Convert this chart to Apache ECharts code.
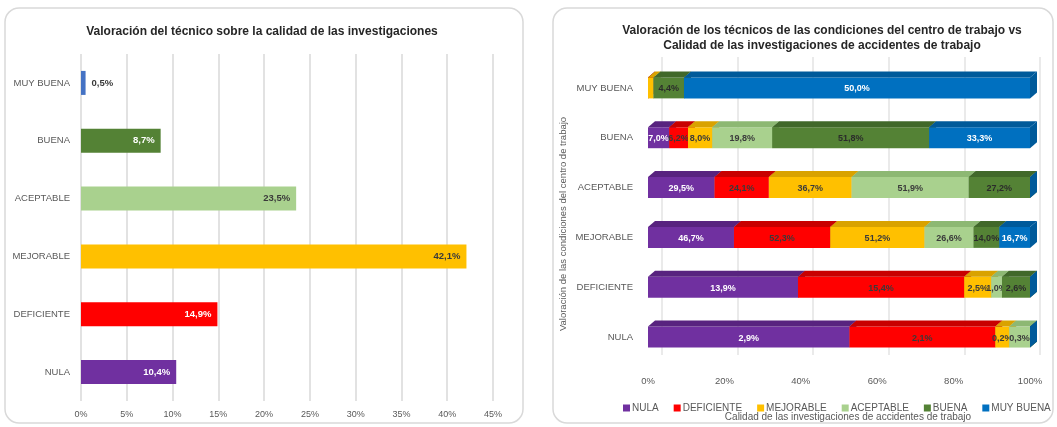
<!DOCTYPE html>
<html>
<head>
<meta charset="utf-8">
<script src="https://cdn.jsdelivr.net/npm/echarts@6/dist/echarts.min.js"></script>
<style>
  html, body { margin: 0; padding: 0; background: #fff; }
  #chart { width: 1057px; height: 427px; }
</style>
</head>
<body>
<div id="chart"></div>
<script>
// Niveles de valoración (de abajo arriba en el eje)
const levels = ['NULA', 'DEFICIENTE', 'MEJORABLE', 'ACEPTABLE', 'BUENA', 'MUY BUENA'];
const levelColors = ['#7030A0', '#FF0000', '#FFC000', '#A9D18E', '#548235', '#0070C0'];

// Gráfico izquierdo: valoración del técnico sobre la calidad (%)
const leftValues = [10.4, 14.9, 42.1, 23.5, 8.7, 0.5];
const leftTicks = [0, 5, 10, 15, 20, 25, 30, 35, 40, 45];

// Gráfico derecho: una serie por calidad de la investigación,
// un valor por valoración de las condiciones (NULA ... MUY BUENA)
const qNula       = [2.9, 13.9, 46.7, 29.5, 7.0, 0];
const qDeficiente = [2.1, 15.4, 52.3, 24.1, 6.2, 0];
const qMejorable  = [0.2, 2.5, 51.2, 36.7, 8.0, 0.8];
const qAceptable  = [0.3, 1.0, 26.6, 51.9, 19.8, 0];
const qBuena      = [0, 2.6, 14.0, 27.2, 51.8, 4.4];
const qMuyBuena   = [0, 0, 16.7, 0, 33.3, 50.0];
const rightSeries = [qNula, qDeficiente, qMejorable, qAceptable, qBuena, qMuyBuena];

const FONT = '"Liberation Sans Narrow", "Liberation Sans", sans-serif';
const fmt = v => v.toFixed(1).replace('.', ',') + '%';

// colores de las caras superior y lateral (efecto 3D)
const topColors = ['#58237F', '#C80000', '#D9A200', '#8DB873', '#41682A', '#005A9A'];
const rightLabelColors = ['#fff', '#3a3a3a', '#3a3a3a', '#3a3a3a', '#2b2b2b', '#fff'];
const leftLabelColors = ['#fff', '#fff', '#3a3a3a', '#3a3a3a', '#fff', '#3a3a3a'];

// totales por fila para el apilado al 100%
const rowTotals = levels.map((_, r) => rightSeries.reduce((s, arr) => s + arr[r], 0));

const DX = 7, DY = 6;

function build3dSeries(si) {
    const data = levels.map((_, r) => {
        let start = 0;
        for (let k = 0; k < si; k++) start += rightSeries[k][r] / rowTotals[r] * 100;
        const share = rightSeries[si][r] / rowTotals[r] * 100;
        return [r, start, start + share, rightSeries[si][r], share];
    });
    return {
        type: 'custom',
        name: levels[si],
        xAxisIndex: 1,
        yAxisIndex: 1,
        encode: { x: [1, 2], y: 0 },
        data: data,
        itemStyle: { color: levelColors[si] },
        renderItem: (params, api) => {
            const cat = api.value(0);
            const p0 = api.coord([api.value(1), cat]);
            const p1 = api.coord([api.value(2), cat]);
            const h = api.size([0, 1])[1] * 0.42;
            const x0 = p0[0], x1 = p1[0];
            const yT = p0[1] - h / 2, yB = p0[1] + h / 2;
            const children = [
                { type: 'rect', shape: { x: x0, y: yT, width: x1 - x0, height: h },
                  style: { fill: levelColors[si] } },
                { type: 'polygon', shape: { points: [[x0, yT], [x0 + DX, yT - DY], [x1 + DX, yT - DY], [x1, yT]] },
                  style: { fill: topColors[si] } },
                { type: 'polygon', shape: { points: [[x1, yT], [x1 + DX, yT - DY], [x1 + DX, yB - DY], [x1, yB]] },
                  style: { fill: topColors[si] } }
            ];
            const raw = api.value(3), share = api.value(4);
            if (raw > 0 && share > 2) {
                children.push({
                    type: 'text',
                    style: {
                        text: fmt(raw), x: (x0 + x1) / 2, y: p0[1] + 1,
                        align: 'center', verticalAlign: 'middle',
                        fill: rightLabelColors[si], font: 'bold 9px ' + FONT
                    }
                });
            }
            return { type: 'group', children: children };
        }
    };
}

const chart = echarts.init(document.getElementById('chart'));

const axisLabelStyle = { color: '#595959', fontSize: 9, fontFamily: FONT };

const option = {
    animation: false,
    textStyle: { fontFamily: FONT },
    title: [
        { text: 'Valoración del técnico sobre la calidad de las investigaciones',
          left: 257, top: 21, textAlign: 'center',
          textStyle: { fontSize: 12, fontWeight: 'bold', color: '#262626', fontFamily: FONT } },
        { text: 'Valoración de los técnicos de las condiciones del centro de trabajo vs\nCalidad de las investigaciones de accidentes de trabajo',
          left: 817, top: 18, textAlign: 'center',
          textStyle: { fontSize: 12, fontWeight: 'bold', color: '#262626', lineHeight: 15, fontFamily: FONT } }
    ],
    graphic: [
        { type: 'rect', shape: { x: 5, y: 8, width: 518, height: 415, r: 14 },
          style: { fill: 'none', stroke: '#d9d9d9', lineWidth: 1.5 }, z: -10 },
        { type: 'rect', shape: { x: 553, y: 8, width: 500, height: 415, r: 14 },
          style: { fill: 'none', stroke: '#d9d9d9', lineWidth: 1.5 }, z: -10 },
        { type: 'text', x: 563, y: 224, rotation: Math.PI / 2,
          style: { text: 'Valoración de las condiciones del centro de trabajo', align: 'center', verticalAlign: 'middle',
                   fill: '#595959', font: '9.5px ' + FONT } },
        { type: 'text', x: 848, y: 417,
          style: { text: 'Calidad de las investigaciones de accidentes de trabajo', align: 'center', verticalAlign: 'middle',
                   fill: '#595959', font: '10px ' + FONT } }
    ],
    legend: {
        left: 618, top: 398,
        itemWidth: 7, itemHeight: 7, itemGap: 15,
        icon: 'rect',
        data: levels,
        textStyle: { color: '#595959', fontSize: 10, fontFamily: FONT, padding: [0, 0, 0, -3] }
    },
    grid: [
        { left: 81, right: 564, top: 54, bottom: 26 },
        { left: 648, right: 27, top: 63, bottom: 65 },
        { left: 662, right: 17, top: 57, bottom: 72 }
    ],
    xAxis: [
        { gridIndex: 0, type: 'value', min: 0, max: 45, interval: 5,
          axisLine: { show: false }, axisTick: { show: false },
          axisLabel: Object.assign({ formatter: '{value}%', margin: 9 }, axisLabelStyle),
          splitLine: { lineStyle: { color: '#d9d9d9', width: 1.5 } } },
        { gridIndex: 1, type: 'value', min: 0, max: 100, interval: 20,
          axisLine: { show: false }, axisTick: { show: false },
          axisLabel: Object.assign({ formatter: '{value}%', margin: 14 }, axisLabelStyle, { fontSize: 9.5 }),
          splitLine: { show: false } },
        { gridIndex: 2, type: 'value', min: 0, max: 100, interval: 20,
          axisLine: { show: false }, axisTick: { show: false }, axisLabel: { show: false },
          splitLine: { lineStyle: { color: '#e3e3e3', width: 1.5 } } }
    ],
    yAxis: [
        { gridIndex: 0, type: 'category', data: levels,
          axisLine: { show: false }, axisTick: { show: false },
          axisLabel: Object.assign({ margin: 11 }, axisLabelStyle, { fontSize: 9.5 }) },
        { gridIndex: 1, type: 'category', data: levels,
          axisLine: { show: false }, axisTick: { show: false },
          axisLabel: Object.assign({ margin: 15 }, axisLabelStyle, { fontSize: 9.5 }) },
        { gridIndex: 2, type: 'value', min: 0, max: 1, show: false, splitLine: { show: false } }
    ],
    series: [
        {
            type: 'bar',
            xAxisIndex: 0,
            yAxisIndex: 0,
            barWidth: 24,
            data: leftValues.map((v, i) => ({
                value: v,
                itemStyle: { color: i === 5 ? '#4472C4' : levelColors[i] },
                label: {
                    show: true,
                    position: i === 5 ? 'right' : 'insideRight',
                    distance: 6,
                    formatter: fmt(v),
                    color: leftLabelColors[i],
                    fontSize: 9.5, fontWeight: 'bold', fontFamily: FONT
                }
            })),
            legendHoverLink: false
        },
        ...levels.map((_, si) => build3dSeries(si))
    ]
};

chart.setOption(option);
window.addEventListener('resize', () => chart.resize());
</script>
</body>
</html>
